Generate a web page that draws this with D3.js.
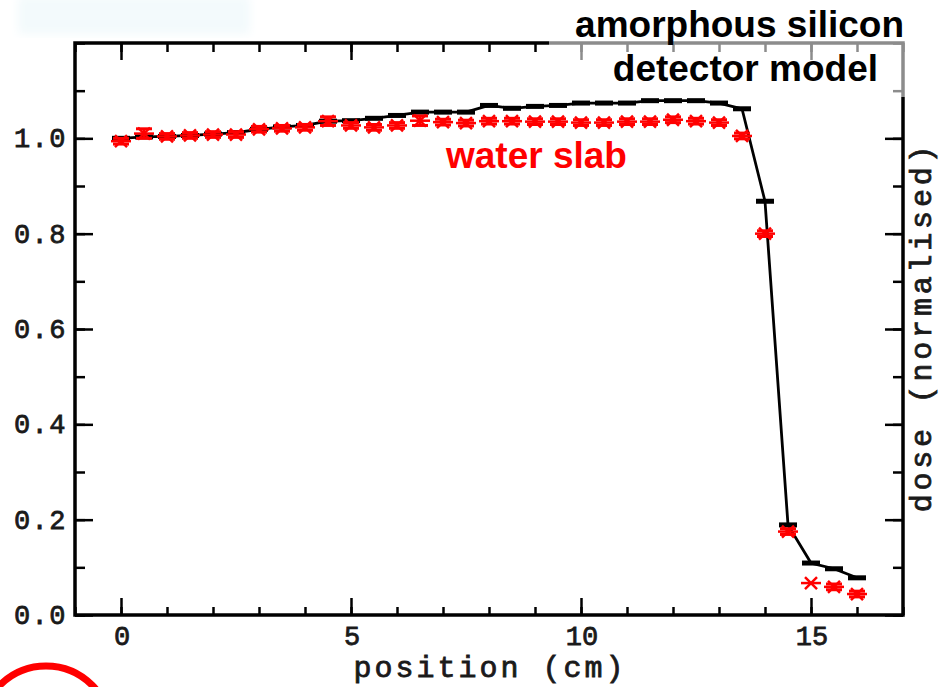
<!DOCTYPE html>
<html>
<head>
<meta charset="utf-8">
<script src="https://cdn.jsdelivr.net/npm/d3@7"></script>
<style>
  html, body { margin: 0; padding: 0; background: #fff; }
  svg { display: block; }
</style>
</head>
<body>
<div id="chart"></div>
<script>
// positions along the profile (cm), one sample every 0.5 cm
const positions = [0, 0.5, 1, 1.5, 2, 2.5, 3, 3.5, 4, 4.5, 5, 5.5, 6, 6.5, 7, 7.5,
  8, 8.5, 9, 9.5, 10, 10.5, 11, 11.5, 12, 12.5, 13, 13.5, 14, 14.5, 15, 15.5, 16];

// amorphous silicon detector model (black line)
const detectorDose = [1.000, 1.003, 1.004, 1.006, 1.009, 1.012, 1.019, 1.024, 1.027, 1.036,
  1.037, 1.042, 1.048, 1.055, 1.055, 1.055, 1.069, 1.063, 1.067, 1.069, 1.074, 1.074,
  1.074, 1.079, 1.079, 1.079, 1.074, 1.062, 0.868, 0.189, 0.109, 0.097, 0.078];

// water slab (red points) and their error bars
const waterDose = [0.994, 1.010, 1.004, 1.006, 1.008, 1.008, 1.019, 1.021, 1.023, 1.036,
  1.027, 1.023, 1.027, 1.037, 1.034, 1.032, 1.036, 1.036, 1.035, 1.035, 1.033, 1.033,
  1.035, 1.035, 1.039, 1.036, 1.033, 1.005, 0.800, 0.175, 0.067, 0.059, 0.044];
const waterErr = [0.006, 0.010, 0.006, 0.006, 0.006, 0.006, 0.006, 0.006, 0.006, 0.009,
  0.006, 0.006, 0.006, 0.010, 0.006, 0.006, 0.006, 0.006, 0.006, 0.006, 0.006, 0.006,
  0.006, 0.006, 0.006, 0.006, 0.006, 0.006, 0.006, 0.006, 0.000, 0.006, 0.006];

const xTicks = [0, 5, 10, 15];
const xMinorTicks = d3.range(-1, 18, 1);
const yTicks = [0.0, 0.2, 0.4, 0.6, 0.8, 1.0];
const yMinorTicks = d3.range(0, 1.21, 0.1);

const width = 941;
const height = 687;
const margin = { top: 43, right: 38, bottom: 72, left: 75 };

const svg = d3.select("#chart")
  .append("svg")
  .attr("width", width)
  .attr("height", height);

const defs = svg.append("defs");
defs.append("filter")
  .attr("id", "soft")
  .append("feGaussianBlur")
  .attr("stdDeviation", 5);

// faint ghost smudge in the top-left corner
svg.append("rect")
  .attr("x", 18).attr("y", -4)
  .attr("width", 232).attr("height", 38)
  .attr("fill", "#f3fafc")
  .attr("filter", "url(#soft)");

const x = d3.scaleLinear().domain([-1, 17]).range([margin.left, width - margin.right]);
const y = d3.scaleLinear().domain([0, 1.2]).range([height - margin.bottom, margin.top]);

const monoFont = '"Liberation Mono", "DejaVu Sans Mono", monospace';
const sansFont = '"Liberation Sans", Arial, sans-serif';
const inkColor = "#1a1a1a";

// ticks: bottom / top (pointing inward)
const bottomAxis = svg.append("g").attr("transform", `translate(0,${y(0)})`);
bottomAxis.call(d3.axisTop(x).tickValues(xMinorTicks).tickSize(8).tickFormat(""));
bottomAxis.append("g").call(d3.axisTop(x).tickValues(xTicks).tickSize(17).tickFormat(""));

const topAxis = svg.append("g").attr("transform", `translate(0,${y(1.2)})`);
topAxis.call(d3.axisBottom(x).tickValues(xMinorTicks).tickSize(9).tickFormat(""));
topAxis.append("g").call(d3.axisBottom(x).tickValues(xTicks).tickSize(17).tickFormat(""));

const leftAxis = svg.append("g").attr("transform", `translate(${x(-1)},0)`);
leftAxis.call(d3.axisRight(y).tickValues(yMinorTicks).tickSize(10).tickFormat(""));
leftAxis.append("g").call(d3.axisRight(y).tickValues(yTicks).tickSize(18).tickFormat(""));

const rightAxis = svg.append("g").attr("transform", `translate(${x(17)},0)`);
rightAxis.call(d3.axisLeft(y).tickValues(yMinorTicks).tickSize(10).tickFormat(""));
rightAxis.append("g").call(d3.axisLeft(y).tickValues(yTicks).tickSize(18).tickFormat(""));

svg.selectAll(".domain").remove();
svg.selectAll(".tick line").attr("stroke", "#000").attr("stroke-width", 2.5);

// frame
svg.append("rect")
  .attr("x", x(-1)).attr("y", y(1.2))
  .attr("width", x(17) - x(-1))
  .attr("height", y(0) - y(1.2))
  .attr("fill", "none")
  .attr("stroke", "#000")
  .attr("stroke-width", 3.5);

// tick labels
function monoText(sel, size, spacing) {
  sel.style("font-family", monoFont)
    .style("font-size", size + "px")
    .style("letter-spacing", spacing + "px")
    .style("fill", inkColor)
    .style("stroke", inkColor)
    .style("stroke-width", 0.8);
}

svg.append("g")
  .selectAll("text")
  .data(xTicks)
  .join("text")
  .attr("x", (d) => x(d) + 1)
  .attr("y", y(0) + 30)
  .attr("text-anchor", "middle")
  .call(monoText, 27, 0)
  .text((d) => d);

svg.append("g")
  .selectAll("text")
  .data(yTicks)
  .join("text")
  .attr("x", x(-1) - 8)
  .attr("y", (d) => y(d) + 9)
  .attr("text-anchor", "end")
  .call(monoText, 27, 1.5)
  .text((d) => d3.format(".1f")(d));

// axis titles
svg.append("text")
  .attr("x", (x(-1) + x(17)) / 2 + 1)
  .attr("y", 677)
  .attr("text-anchor", "middle")
  .call(monoText, 30, 3)
  .text("position (cm)");

svg.append("text")
  .attr("transform", `translate(931,${(y(0) + y(1.2)) / 2 - 2}) rotate(-90)`)
  .attr("text-anchor", "middle")
  .call(monoText, 30, 3.8)
  .text("dose (normalised)");

// detector model line
const pts = positions.map((p, i) => ({ p, d: detectorDose[i], w: waterDose[i], e: waterErr[i] }));

svg.append("path")
  .datum(pts)
  .attr("fill", "none")
  .attr("stroke", "#000")
  .attr("stroke-width", 2.8)
  .attr("stroke-linejoin", "round")
  .attr("d", d3.line().x((d) => x(d.p)).y((d) => y(d.d)));

svg.append("g")
  .selectAll("rect")
  .data(pts)
  .join("rect")
  .attr("x", (d) => x(d.p) - 9)
  .attr("y", (d) => y(d.d) - 2.5)
  .attr("width", 18)
  .attr("height", 5)
  .attr("fill", "#000");

// water slab markers: error bar caps + asterisk
const red = "#ff0000";
const marks = svg.append("g").attr("stroke", red).attr("fill", "none");
pts.forEach((d) => {
  const cx = x(d.p);
  const cy = y(d.w);
  const e = y(0) - y(d.e);
  const g = marks.append("g");
  if (e > 0) {
    g.append("line").attr("x1", cx - 8).attr("x2", cx + 8).attr("y1", cy - e).attr("y2", cy - e).attr("stroke-width", 3);
    g.append("line").attr("x1", cx - 8).attr("x2", cx + 8).attr("y1", cy + e).attr("y2", cy + e).attr("stroke-width", 3);
    g.append("line").attr("x1", cx).attr("x2", cx).attr("y1", cy - e).attr("y2", cy + e).attr("stroke-width", 2.5);
  }
  g.append("line").attr("x1", cx - 10).attr("x2", cx + 10).attr("y1", cy).attr("y2", cy).attr("stroke-width", 2.5);
  g.append("line").attr("x1", cx - 6).attr("x2", cx + 6).attr("y1", cy - 6).attr("y2", cy + 6).attr("stroke-width", 2.5);
  g.append("line").attr("x1", cx - 6).attr("x2", cx + 6).attr("y1", cy + 6).attr("y2", cy - 6).attr("stroke-width", 2.5);
});

// washed-out box behind the model label (greys the frame corner)
svg.append("rect")
  .attr("x", 549).attr("y", 0)
  .attr("width", 366).attr("height", 97)
  .attr("fill", "#fff")
  .attr("opacity", 0.55);

// series labels
svg.append("text")
  .attr("x", 904).attr("y", 37)
  .attr("text-anchor", "end")
  .style("font-family", sansFont)
  .style("font-weight", "bold")
  .style("font-size", "37px")
  .style("fill", "#000")
  .text("amorphous silicon");

svg.append("text")
  .attr("x", 878).attr("y", 81)
  .attr("text-anchor", "end")
  .style("font-family", sansFont)
  .style("font-weight", "bold")
  .style("font-size", "37px")
  .style("fill", "#000")
  .text("detector model");

svg.append("text")
  .attr("x", 446).attr("y", 168)
  .style("font-family", sansFont)
  .style("font-weight", "bold")
  .style("font-size", "37px")
  .style("fill", red)
  .text("water slab");

// red ring, bottom-left corner
svg.append("circle")
  .attr("cx", 46).attr("cy", 731)
  .attr("r", 65)
  .attr("fill", "none")
  .attr("stroke", red)
  .attr("stroke-width", 7);
</script>
</body>
</html>
